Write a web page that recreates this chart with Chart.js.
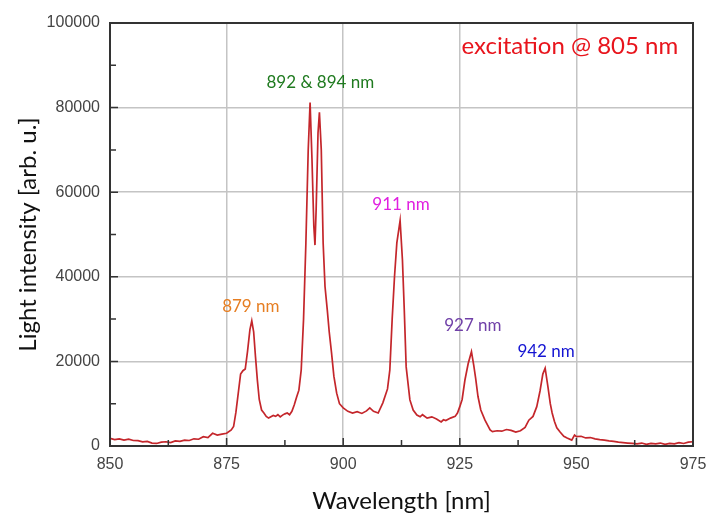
<!DOCTYPE html>
<html>
<head>
<meta charset="utf-8">
<script src="https://cdn.jsdelivr.net/npm/chart.js@4.4.1/dist/chart.umd.min.js"></script>
<style>
  html, body { margin: 0; padding: 0; background: #fff; }
  #wrap { width: 707px; height: 516px; position: relative; }
</style>
</head>
<body>
<div id="wrap"><canvas id="spectrum"></canvas></div>
<script>
// emission spectrum
const wavelength = [
  850, 851, 852, 853, 854, 855, 856, 857, 858, 859, 860, 861, 862, 863, 864, 865, 866, 867, 868, 869,
  870, 871, 872, 873, 874, 875, 876, 876.5, 877, 877.5, 878, 878.5, 879, 879.5, 880, 880.4, 880.8, 881.2,
  881.6, 882, 882.5, 883, 883.5, 884, 884.5, 885, 885.5, 886, 886.5, 887, 887.5, 888, 888.5, 889, 889.5,
  890, 890.5, 891, 891.5, 892, 892.5, 892.9, 893.3, 893.7, 893.95, 894.2, 894.6, 894.9, 895.3, 895.7,
  896.1, 896.6, 897, 897.5, 898, 898.6, 899.2, 900, 901, 902, 903, 904, 905, 905.7, 906.5, 907.5, 908.5,
  909.5, 910, 910.5, 911, 911.5, 912.2, 912.7, 913.1, 913.5, 914.3, 915, 915.8, 916.5, 917, 918, 919, 920,
  921, 921.5, 922, 923, 924, 924.5, 925, 925.5, 926.1, 926.8, 927.5, 928, 928.4, 928.9, 929.5, 930.4,
  931.5, 932, 933, 934, 935, 936, 937, 938, 939, 939.8, 940.7, 941.5, 942.2, 942.8, 943.3, 943.9, 944.4,
  944.8, 945.3, 945.8, 946.5, 947.3, 948, 949, 949.6, 950, 951, 952, 953, 954, 955, 956, 957, 958, 959,
  960, 961, 962, 963, 964, 965, 966, 967, 968, 969, 970, 971, 972, 973, 974, 975
];
const intensity = [
  1800, 1500, 1700, 1400, 1600, 1300, 1250, 1000, 1100, 700, 600, 900, 1000, 800, 1200, 1100, 1400, 1300, 1700, 1600,
  2200, 2000, 3000, 2600, 2800, 3000, 3800, 4600, 8000, 12500, 17000, 17800, 18200, 22500, 27500, 29600, 27000, 21000,
  15500, 11000, 8500, 7800, 7000, 6600, 6900, 7200, 7000, 7400, 6900, 7300, 7600, 7800, 7400, 8200, 9700,
  11500, 13200, 18000, 30000, 48000, 70000, 81200, 68000, 52000, 47500, 56000, 74000, 78900, 70000, 48000,
  37700, 32000, 27000, 22000, 16500, 12500, 10000, 9000, 8200, 7800, 8100, 7700, 8300, 9000, 8200, 7800, 10200,
  13500, 18000, 30000, 40000, 48000, 53300, 44000, 32000, 18700, 10900, 8500, 7300, 6900, 7400, 6600, 6900, 6400,
  5700, 6200, 6000, 6600, 7000, 7800, 9300, 11000, 15600, 19500, 22300, 19000, 16000, 11700, 8500, 6100,
  3800, 3400, 3600, 3500, 3900, 3700, 3300, 3600, 4400, 6100, 7000, 9300, 13000, 17000, 18400, 14000, 10000,
  7800, 5800, 4300, 3300, 2300, 1900, 1400, 2600, 2200, 2300, 1900, 2000, 1700, 1500, 1400, 1200, 1100, 900,
  800, 700, 600, 500, 700, 400, 600, 500, 700, 400, 600, 500, 800, 600, 900, 1000
];

// peak labels (data coordinates)
const labelText  = ["excitation @ 805 nm", "892 & 894 nm", "911 nm", "879 nm", "927 nm", "942 nm"];
const labelX     = [948.6, 895.1, 912.4, 880.2, 927.8, 943.5];
const labelY     = [94500, 86000, 57200, 32900, 28600, 22400];
const labelColor = ["#e8141c", "#1f7a1f", "#e020e0", "#e67e22", "#7040a8", "#1414d2"];
const labelSize  = [24, 17, 17, 17, 17, 17];

const minorX = [862.5, 887.5, 912.5, 937.5, 962.5];
const majorX = [875, 900, 925, 950];
const minorY = [10000, 30000, 50000, 70000, 90000];
const majorY = [20000, 40000, 60000, 80000];

const points = wavelength.map((w, i) => ({ x: w, y: intensity[i] }));

const frameAndTicks = {
    id: 'frameAndTicks',
    afterDatasetsDraw(chart) {
        const { ctx, chartArea: a, scales } = chart;
        ctx.save();
        ctx.strokeStyle = '#333';
        ctx.lineWidth = 1.5;
        ctx.beginPath();
        minorX.forEach(v => { let p = scales.x.getPixelForValue(v); ctx.moveTo(p, a.bottom); ctx.lineTo(p, a.bottom - 6); });
        majorX.forEach(v => { let p = scales.x.getPixelForValue(v); ctx.moveTo(p, a.bottom); ctx.lineTo(p, a.bottom - 8); });
        minorY.forEach(v => { let p = scales.y.getPixelForValue(v); ctx.moveTo(a.left, p); ctx.lineTo(a.left + 6, p); });
        majorY.forEach(v => { let p = scales.y.getPixelForValue(v); ctx.moveTo(a.left, p); ctx.lineTo(a.left + 8, p); });
        ctx.stroke();
        ctx.lineWidth = 2;
        ctx.strokeRect(a.left, a.top, a.right - a.left, a.bottom - a.top);

        ctx.textAlign = 'center';
        ctx.textBaseline = 'middle';
        labelText.forEach((t, i) => {
            ctx.font = labelSize[i] + 'px Lato';
            ctx.fillStyle = labelColor[i];
            ctx.fillText(t, scales.x.getPixelForValue(labelX[i]), scales.y.getPixelForValue(labelY[i]));
        });
        ctx.restore();
    }
};

new Chart(document.getElementById('spectrum'), {
    type: 'line',
    data: {
        datasets: [{
            label: 'spectrum',
            data: points,
            borderColor: '#c4262b',
            borderWidth: 1.7,
            pointRadius: 0,
            tension: 0,
            fill: false
        }]
    },
    options: {
        responsive: true,
        maintainAspectRatio: false,
        animation: false,
        layout: { padding: { top: 23, right: 0, left: 0, bottom: 0 } },
        plugins: { legend: { display: false }, tooltip: { enabled: false } },
        scales: {
            x: {
                type: 'linear',
                min: 850,
                max: 975,
                afterFit: s => { s.height = 70; s.paddingRight = 14; },
                ticks: { stepSize: 25, color: '#444', padding: 9, font: { family: 'Liberation Sans', size: 16 }, callback: v => String(v) },
                grid: { color: '#c4c4c4', lineWidth: 1.5, drawTicks: false },
                border: { display: true, color: '#333', width: 2 },
                title: { display: true, text: 'Wavelength [nm]', color: '#111', font: { family: 'Lato', size: 24 }, padding: { top: 4, bottom: 0 } }
            },
            y: {
                min: 0,
                max: 100000,
                afterFit: s => { s.width = 110; },
                ticks: { stepSize: 20000, color: '#444', padding: 10, font: { family: 'Liberation Sans', size: 16 }, callback: v => String(v) },
                grid: { color: '#c4c4c4', lineWidth: 1.5, drawTicks: false },
                border: { display: true, color: '#333', width: 2 },
                title: { display: true, text: 'Light intensity [arb. u.]', color: '#111', font: { family: 'Lato', size: 24 }, padding: { top: 14, bottom: 4 } }
            }
        }
    },
    plugins: [frameAndTicks]
});
</script>
</body>
</html>
